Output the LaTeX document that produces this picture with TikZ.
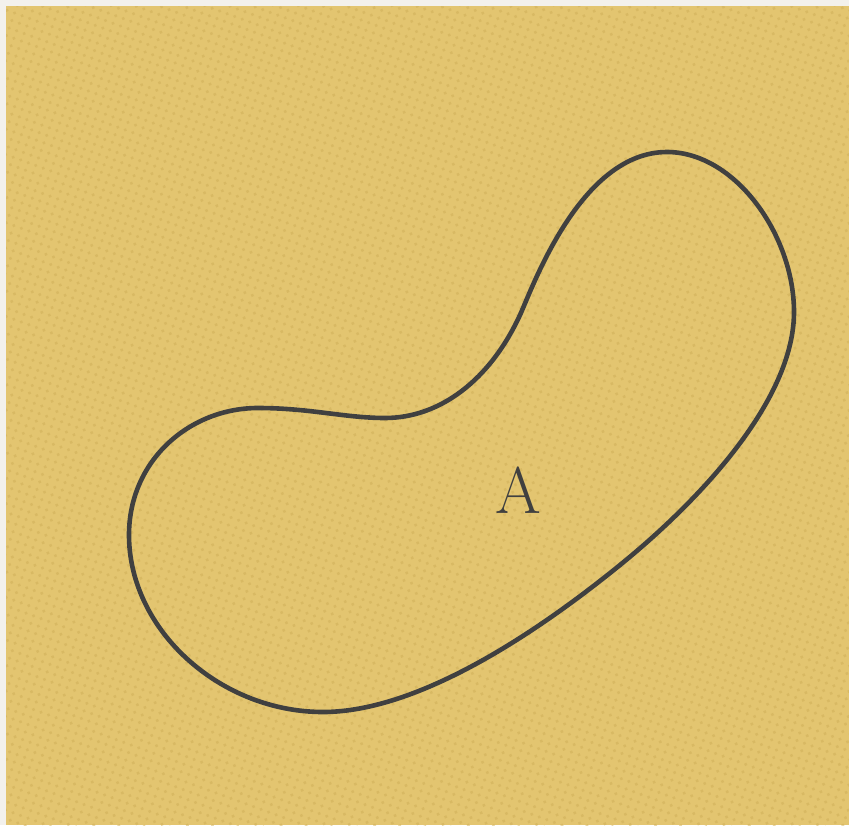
\documentclass[tikz,border=0pt]{standalone}
\usepackage{tikz}
\usetikzlibrary{patterns.meta}
\definecolor{paper}{HTML}{F3F1EC}
\definecolor{sand}{HTML}{E3C570}
\definecolor{sanddot}{HTML}{CFAE58}
\definecolor{ink}{HTML}{404040}

\begin{document}
\begin{tikzpicture}[x=1pt, y=-1pt,
  outline/.style={draw=ink, line width=4.6pt, line join=round},
  setlabel/.style={text=ink, font=\fontsize{66}{72}\selectfont, inner sep=0pt}]
  % page and tinted background
  \fill[paper] (0,0) rectangle (849,825);
  \fill[sand] (6,6) rectangle (849,825);
  \fill[pattern={Dots[distance=8pt, angle=-20, radius=1.8pt]}, pattern color=sanddot, opacity=0.5]
    (6,6) rectangle (849,825);
  % the region
  \draw[outline] (667,152)
    .. controls (735,152) and (794,235) .. (794,312)
    .. controls (794,400) and (700,500) .. (620,565)
    .. controls (540,630) and (420,712) .. (323,712)
    .. controls (220,712) and (129,630) .. (129,535)
    .. controls (129,460) and (190,408) .. (258,408)
    .. controls (310,408) and (345,418) .. (385,418)
    .. controls (440,418) and (490,380) .. (520,315)
    .. controls (532,289) and (580,152) .. cycle;
  \node[setlabel] (A) at (518,490) {A};
\end{tikzpicture}
\end{document}
